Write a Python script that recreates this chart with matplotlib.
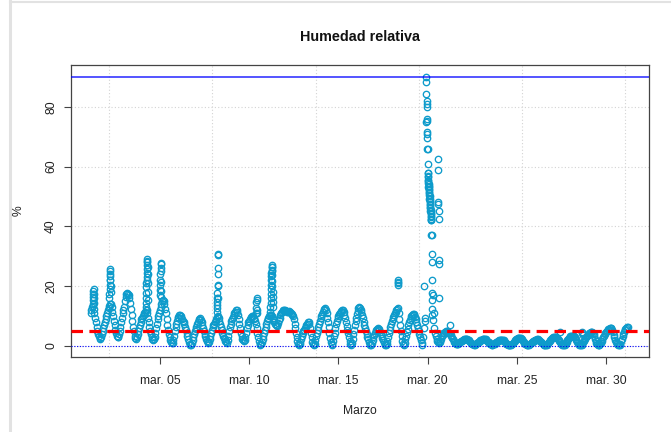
import matplotlib
matplotlib.use("Agg")
import matplotlib.pyplot as plt
import matplotlib.dates as mdates
from matplotlib.lines import Line2D
from datetime import datetime, timedelta

plt.rcParams['font.family'] = ['Liberation Sans', 'DejaVu Sans']

# ---------------- data (hourly readings, % relative humidity) ----------------
first_reading = "2023-03-01 03:00"   # first hourly reading

d01 = [11, 12, 13, 13.5, 12.5, 11, 9.5, 8, 6.5, 5, 4, 3.2, 2.7, 2.5, 3, 4, 5, 6, 7, 8, 9]  # from 03h
d02 = [10, 11, 12, 12.8, 13.5, 14, 14, 13, 11.5, 10, 8.5, 7, 5.5, 4.5, 3.5, 3, 3, 4, 5, 6.5, 8, 9.5, 11, 12]
d03 = [13, 15, 16.5, 17.5, 17.8, 17.5, 17, 16, 14.5, 12.5, 10.5, 8.5, 6.5, 5, 3.5, 2.8, 2.5, 3, 4, 5, 6, 7, 8, 9]
d04 = [9.5, 10, 10.5, 11, 11.5, 12, 12, 11, 9.5, 8, 6.5, 5, 4, 3, 2.3, 2, 2.2, 3, 4.5, 6, 7.5, 9, 10, 11]
d05 = [12, 13, 14, 15, 15.5, 15, 14, 12.5, 11, 9, 7, 5.5, 4, 3, 2, 1.3, 1, 0.9, 2, 3.5, 5, 6.5, 7.5, 8.5]
d06 = [9.3, 9.8, 10.2, 10.3, 10, 9.5, 9, 8.5, 8, 7.3, 6.5, 5.5, 4.5, 3.5, 2.5, 1.5, 0.8, 0.3, 0.2, 1, 2, 3, 4, 5]
d07 = [5.8, 6.5, 7.2, 8, 8.6, 9, 9.2, 8.8, 8, 7, 6, 5, 4, 3.2, 2.4, 1.7, 1.2, 1, 1.5, 2.5, 3.5, 4.5, 5.5, 6.5]
d08 = [7, 7.5, 8, 8.5, 9, 9.8, 10, 9.5, 8.5, 7.5, 6.5, 5.5, 4.5, 3.5, 2.8, 2.2, 1.6, 1.2, 1, 2, 3.5, 5, 6.5, 7.5]
d09 = [8.5, 9, 9.7, 10.3, 11, 11.5, 12, 12.2, 11.5, 10.5, 9, 7.5, 6, 4.5, 3.2, 2.5, 2, 1.8, 2, 3, 4.5, 6, 7, 8]
d10 = [8.5, 9, 9.5, 9.8, 10, 10, 9.5, 9, 8.5, 7.5, 6, 4.5, 3, 1.8, 0.8, 0.3, 0.5, 1.5, 2.5, 3.5, 4.5, 5.5, 6.5, 7.5]
d11 = [8.3, 9, 9.5, 10, 10.3, 10.5, 10.5, 10, 9.5, 8.8, 8, 7.5, 7, 6.8, 7, 7.8, 8.7, 9.5, 10.3, 11, 11.5, 11.8, 12, 12]
d12 = [12, 11.8, 11.6, 11.5, 11.5, 11.6, 11.5, 11.3, 11, 10.8, 10.5, 10, 9, 7.5, 6, 4.5, 3, 1.8, 0.8, 0.3, 0.5, 1.5, 2.5, 3.5]
d13 = [4.5, 5, 5.5, 6, 6.5, 7, 7.5, 8, 8.1, 7.5, 6, 4.5, 3, 1.5, 0.5, 0.2, 0.8, 2, 3.2, 4.5, 5.5, 6.5, 7.5, 8.5]
d14 = [9.3, 10, 10.8, 11.5, 12, 12.5, 12.6, 12, 11, 9.5, 8, 6.3, 4.5, 2.8, 1.3, 0.3, 0.5, 1.8, 3.2, 4.5, 6, 7.2, 8.3, 9.3]
d15 = [10, 10.6, 11, 11.5, 11.8, 12, 12, 11.3, 10.3, 9.2, 8, 6.8, 5.5, 4.3, 3, 1.8, 0.7, 0.2, 1, 2.5, 4, 5.5, 7, 8.3]
d16 = [9.5, 10.7, 11.8, 12.6, 13.1, 12.8, 12.2, 11.3, 10.3, 9.2, 8, 7, 6, 5, 4, 3, 2.2, 1.4, 0.8, 0.3, 0.2, 1, 2, 3]
d17 = [3.8, 4.5, 5, 5.5, 5.8, 6, 5.7, 5.2, 4.6, 4, 3.3, 2.6, 2, 1.4, 0.8, 0.3, 0.2, 0.8, 1.8, 3, 4.2, 5.4, 6.5, 7.5]
d18 = [8.3, 9, 9.7, 10.3, 11, 11.5, 12, 12.5, 12.6, 11, 9, 7, 5, 3.3, 1.8, 0.7, 0.2, 1, 2.2, 3.4, 4.6, 5.8, 7, 8]
d19 = [8.8, 9.4, 9.9, 10.3, 10.6, 10.8, 10.5, 9.8, 9, 8, 7, 6, 5, 4, 3, 2, 1, 0.3, 3, 6, 8.5, 9.5, 75, 66]
d20 = [58, 53, 49, 45, 42, 37, 28, 17, 11, 6, 4.5, 3.5, 2.5, 1.8, 1.2, 1, 1.2, 1.8, 2.5, 3.2, 3.8, 4.2, 4.5, 4.7]
d21 = [4.8, 4.9, 5, 4.8, 4.5, 4.3, 4.2, 3.8, 3.3, 2.8, 2.3, 1.8, 1.4, 1, 0.8, 0.6, 0.6, 0.8, 1, 1.2, 1.4, 1.6, 1.8, 2]
d22 = [2.1, 2.2, 2.3, 2.3, 2.3, 2.2, 2.1, 1.9, 1.6, 1.3, 1, 0.8, 0.6, 0.5, 0.4, 0.4, 0.5, 0.7, 0.9, 1.1, 1.3, 1.5, 1.7, 1.9]
d23 = [2, 2.1, 2.2, 2.3, 2.4, 2.4, 2.3, 2.1, 1.8, 1.5, 1.2, 0.9, 0.7, 0.5, 0.4, 0.4, 0.5, 0.6, 0.8, 1, 1.2, 1.4, 1.6, 1.8]
d24 = [1.9, 2, 2.1, 2.1, 2.1, 2, 1.9, 1.7, 1.4, 1.1, 0.8, 0.6, 0.4, 0.3, 0.3, 0.3, 0.4, 0.6, 0.8, 1, 1.3, 1.6, 1.9, 2.2]
d25 = [2.4, 2.6, 2.7, 2.8, 2.8, 2.7, 2.5, 2.2, 1.8, 1.4, 1, 0.7, 0.5, 0.4, 0.3, 0.3, 0.4, 0.6, 0.8, 1, 1.2, 1.4, 1.6, 1.8]
d26 = [1.9, 2, 2.1, 2.2, 2.2, 2.1, 2, 1.8, 1.5, 1.2, 0.9, 0.6, 0.4, 0.3, 0.3, 0.3, 0.4, 0.7, 1, 1.4, 1.8, 2.1, 2.4, 2.6]
d27 = [2.8, 2.9, 3, 3, 3, 2.9, 2.7, 2.4, 2, 1.6, 1.2, 0.8, 0.5, 0.3, 0.2, 0.2, 0.4, 0.7, 1.1, 1.5, 1.9, 2.3, 2.7, 3]
d28 = [3.2, 3.4, 3.5, 3.5, 3.4, 3.2, 2.9, 2.5, 2, 1.5, 1, 0.6, 0.3, 0.2, 0.2, 0.4, 0.8, 1.3, 1.8, 2.3, 2.7, 3, 3.3, 3.6]
d29 = [3.8, 4.2, 4.5, 4.7, 4.8, 4.8, 4.5, 3.9, 3.2, 2.4, 1.7, 1.1, 0.6, 0.3, 0.2, 0.2, 0.5, 1, 1.7, 2.4, 3, 3.5, 3.9, 4.3]
d30 = [4.6, 5, 5.3, 5.6, 5.8, 5.9, 6, 6, 5.5, 4.7, 3.8, 2.9, 2.1, 1.4, 0.9, 0.5, 0.3, 0.2, 0.3, 0.8, 1.6, 2.5, 3.3, 4]
d31 = [4.7, 5.3, 5.8, 6.1, 6.3, 6.4]  # until 05h

hourly_days = [d01, d02, d03, d04, d05, d06, d07, d08, d09, d10, d11, d12, d13, d14, d15,
               d16, d17, d18, d19, d20, d21, d22, d23, d24, d25, d26, d27, d28, d29, d30, d31]

# short bursts of 10-minute readings (start time, values)
burst_minutes = 10
bursts = [
    ("2023-03-01 06:00", [14, 15.5, 16.5, 17.5, 18.5, 19.2, 17.5, 16, 14.5]),
    ("2023-03-02 04:00", [16, 17.5, 19, 20.5, 22, 23.5, 25, 25.9, 24, 22, 20, 18]),
    ("2023-03-04 05:00", [13, 14.5, 16, 17.6, 19.8, 20.9, 22, 23.1, 24.5, 25.9, 27, 28.1, 29.2,
                          28.5, 26.5, 24, 21, 18, 15.5]),
    ("2023-03-05 00:00", [17, 18.7, 20.3, 22, 24.2, 26, 27.6, 27.3, 25, 21.5, 18.5, 16.5]),
    ("2023-03-08 04:30", [11.4, 12.6, 13.7, 14.8, 15.9, 17.6, 20.3, 24.2, 30.3, 30.9, 26, 20, 16]),
    ("2023-03-10 09:30", [10.9, 12.6, 14.8, 15.9, 15.3, 12, 11]),
    ("2023-03-11 04:30", [11.5, 13, 14.5, 16, 17.5, 19, 20.5, 22, 23.5, 24.5, 25.5, 26.3, 27,
                          26.5, 25.2, 23.6, 21.8, 20, 18.2, 16.4, 14.6, 13]),
    ("2023-03-18 07:30", [20.5, 21.5, 22, 21]),
    ("2023-03-19 19:10", [20.1]),
    ("2023-03-19 22:00", [90.0, 88.4, 84.4, 82.0, 80.9, 80.0, 75.9, 75.1, 71.4, 70.9, 69.6, 65.9, 60.7]),
    ("2023-03-20 00:10", [58, 57, 56.5, 55.5, 55, 54.5, 54, 53.5, 53, 52.5, 52, 51.5, 51, 50.5, 50,
                          49, 48.5, 48, 47.5, 47, 46.5, 46, 45.5, 45, 44.5, 44, 43.5, 43, 42.5, 42]),
    ("2023-03-20 05:30", [37, 30.9, 22.2, 17.6, 15.3, 12.5, 10.5, 8.7]),
    ("2023-03-20 14:00", [62.6, 58.7, 48.1, 47.6, 45.1, 42.6, 28.7, 27.3, 15.9]),
    ("2023-03-21 06:30", [7.0]),
    ("2023-03-27 10:00", [4.8]),
    ("2023-03-28 16:00", [4.8, 4.3, 3.8]),
]

umbral = 5        # red dashed reference
maximo = 90       # blue solid reference
tick_days = [5, 10, 15, 20, 25, 30]
tick_labels = ["mar. 05", "mar. 10", "mar. 15", "mar. 20", "mar. 25", "mar. 30"]
y_ticks = [0, 20, 40, 60, 80]

# ---------------- build series ----------------
fmt = "%Y-%m-%d %H:%M"
t0 = datetime.strptime(first_reading, fmt)
values = [v for day in hourly_days for v in day]
times = [t0 + timedelta(hours=i) for i in range(len(values))]
for start, vals in bursts:
    ts = datetime.strptime(start, fmt)
    for k, v in enumerate(vals):
        times.append(ts + timedelta(minutes=burst_minutes * k))
        values.append(v)

# ---------------- figure ----------------
W, H = 671, 432
fig = plt.figure(figsize=(W / 100, H / 100), dpi=100)
ax = fig.add_axes([71 / W, 1 - 357 / H, (649 - 71) / W, (357 - 65) / H])

base = mdates.date2num(datetime(2023, 3, 1))
px_per_day = 17.85
x0_px = 88.5
ax.set_xlim(base + (71 - x0_px) / px_per_day, base + (649 - x0_px) / px_per_day)
ax.set_ylim(-3.68, 93.95)

# grid (R style)
grid_start = datetime(2023, 3, 2, 3, 33)
for k in range(6):
    gx = grid_start + timedelta(seconds=500000 * k)
    ax.axvline(gx, color="#d3d3d3", lw=0.8, ls=(0, (1, 2)), zorder=1)
for yv in y_ticks:
    ax.axhline(yv, color="#d3d3d3", lw=0.8, ls=(0, (1, 2)), zorder=1)

ax.plot(times, values, linestyle="none", marker="o", ms=4.6, mfc="none",
        mec="#0E9BCB", mew=0.95, zorder=3)

ax.axhline(maximo, color="#0000FF", lw=1.1, alpha=0.85, zorder=4)
ax.axhline(0, color="#0000FF", lw=0.8, ls=(0, (1, 1.5)), zorder=4)
ax.axhline(umbral, color="#FF0000", lw=2.3, ls=(0, (3.6, 2.0)), zorder=5)

ax.set_xticks([base + d - 1 for d in tick_days])
ax.set_xticklabels(tick_labels)
ax.set_yticks(y_ticks)
ax.set_yticklabels([str(v) for v in y_ticks], rotation=90, va="center")
ax.tick_params(axis="x", length=5, width=0.8, color="#444444", pad=8,
               labelsize=8.7, labelcolor="#222222")
ax.tick_params(axis="y", length=5, width=0.8, color="#444444", pad=5,
               labelsize=8.7, labelcolor="#222222")
for s in ax.spines.values():
    s.set_color("#444444")
    s.set_linewidth(0.9)

fig.text(360 / W, 1 - 37 / H, "Humedad relativa", ha="center", va="center",
         fontsize=10.4, fontweight="bold", color="#111111")
fig.text(360 / W, 1 - 411 / H, "Marzo", ha="center", va="center",
         fontsize=8.7, color="#222222")
fig.text(19 / W, 1 - 211 / H, "%", ha="center", va="center", rotation=90,
         fontsize=8.7, color="#222222")

# light frame of the original screenshot
fig.add_artist(Line2D([10 / W, 10 / W], [0, 1], transform=fig.transFigure,
                      color="#e2e2e2", lw=2.2))
fig.add_artist(Line2D([10 / W, 1], [1 - 2 / H, 1 - 2 / H], transform=fig.transFigure,
                      color="#e2e2e2", lw=1.5))

fig.savefig("out.png", dpi=100, facecolor="white")
